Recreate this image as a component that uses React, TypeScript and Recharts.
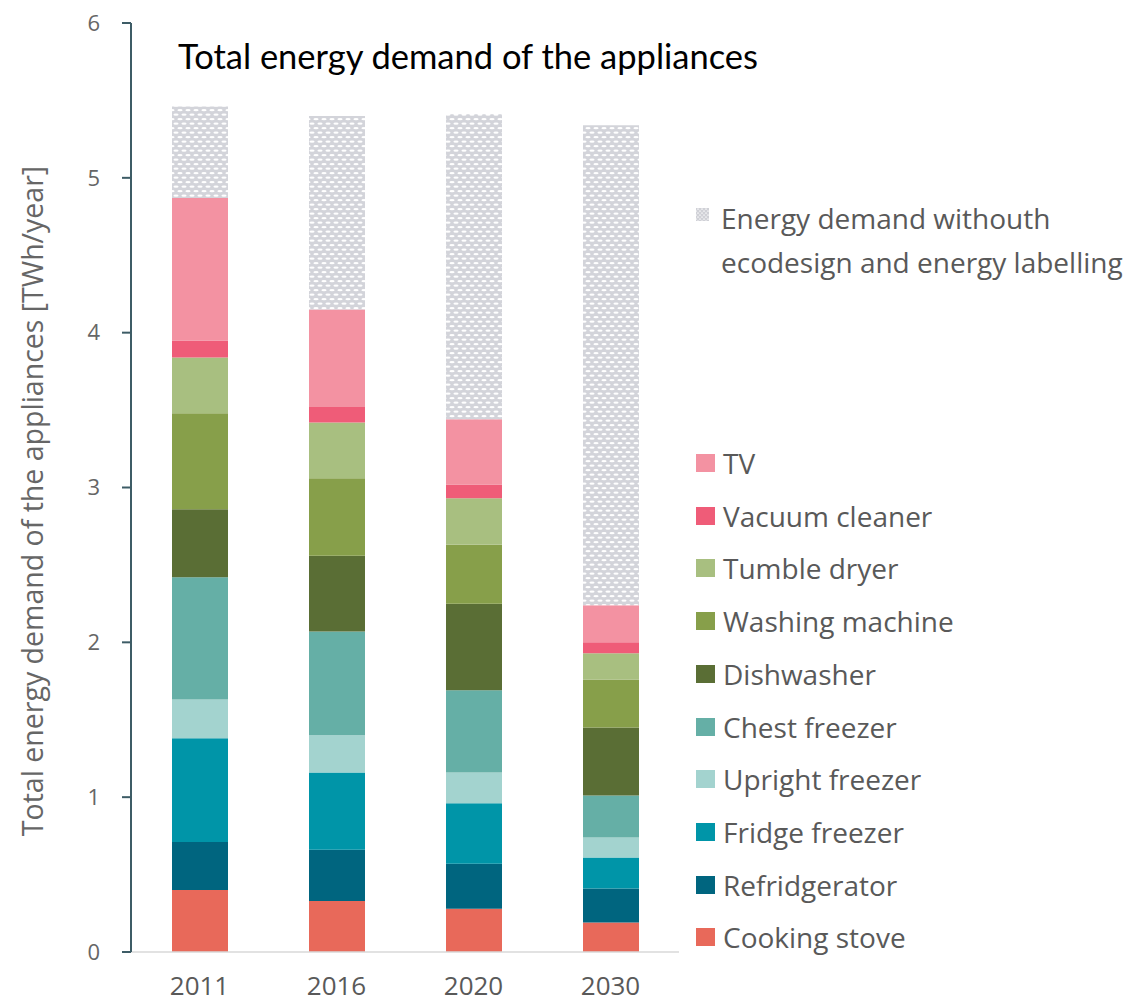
import React from "react";
import { BarChart, Bar, XAxis, YAxis, Label } from "recharts";

const years = ["2011", "2016", "2020", "2030"];

// segment values per appliance, TWh/year
const cookingStove = [0.4, 0.33, 0.28, 0.19];
const refridgerator = [0.31, 0.33, 0.29, 0.22];
const fridgeFreezer = [0.67, 0.5, 0.39, 0.2];
const uprightFreezer = [0.25, 0.24, 0.2, 0.13];
const chestFreezer = [0.79, 0.67, 0.53, 0.27];
const dishwasher = [0.44, 0.49, 0.56, 0.44];
const washingMachine = [0.62, 0.5, 0.38, 0.31];
const tumbleDryer = [0.36, 0.36, 0.3, 0.17];
const vacuumCleaner = [0.11, 0.1, 0.09, 0.07];
const tv = [0.92, 0.63, 0.42, 0.24];

// total demand without ecodesign and energy labelling
const totalWithout = [5.46, 5.4, 5.41, 5.34];

const yTicks = [0, 1, 2, 3, 4, 5, 6];

const series = [
  { key: "cooking", name: "Cooking stove", color: "#E8695A", values: cookingStove },
  { key: "fridge", name: "Refridgerator", color: "#00657F", values: refridgerator },
  { key: "fridgeFreezer", name: "Fridge freezer", color: "#0095A8", values: fridgeFreezer },
  { key: "upright", name: "Upright freezer", color: "#A3D3CF", values: uprightFreezer },
  { key: "chest", name: "Chest freezer", color: "#65AFA6", values: chestFreezer },
  { key: "dish", name: "Dishwasher", color: "#5A6E35", values: dishwasher },
  { key: "washing", name: "Washing machine", color: "#879F4A", values: washingMachine },
  { key: "tumble", name: "Tumble dryer", color: "#A8BF80", values: tumbleDryer },
  { key: "vacuum", name: "Vacuum cleaner", color: "#EF5C78", values: vacuumCleaner },
  { key: "tv", name: "TV", color: "#F392A2", values: tv },
];

const hatchName = "Energy demand withouth ecodesign and energy labelling";

const data = years.map((year, i) => {
  const row: Record<string, any> = { year };
  let sum = 0;
  series.forEach((s) => {
    row[s.key] = s.values[i];
    sum += s.values[i];
  });
  row.without = +(totalWithout[i] - sum).toFixed(2);
  return row;
});

const font = "'Open Sans', sans-serif";

function HatchDefs() {
  return (
    <defs>
      <pattern id="hatch" width="8" height="9" patternUnits="userSpaceOnUse">
        <rect width="8" height="9" fill="#d3d4da" />
        <ellipse cx="4" cy="2.2" rx="2.6" ry="1.1" fill="#ffffff" />
        <ellipse cx="0" cy="6.7" rx="2.6" ry="1.1" fill="#ffffff" />
        <ellipse cx="8" cy="6.7" rx="2.6" ry="1.1" fill="#ffffff" />
      </pattern>
    </defs>
  );
}

function YLabel() {
  return (
    <text
      x={32}
      y={501}
      transform="rotate(-90 32 501)"
      textAnchor="middle"
      dominantBaseline="central"
      fill="#666666"
      fontSize={28.5}
      fontFamily={font}
    >
      Total energy demand of the appliances [TWh/year]
    </text>
  );
}

function ChartLegend() {
  const items = [...series].reverse();
  return (
    <div style={{ position: "absolute", left: 696, top: 0, fontFamily: font, color: "#595959" }}>
      <div style={{ position: "absolute", top: 196, left: 0, width: 450 }}>
        <svg width={13} height={13} style={{ position: "absolute", left: 0, top: 12 }}>
          <rect width={13} height={13} fill="url(#hatchLegend)" />
          <defs>
            <pattern id="hatchLegend" width="4" height="4" patternUnits="userSpaceOnUse">
              <rect width="4" height="4" fill="#cfd0d6" />
              <ellipse cx="2" cy="1" rx="1.2" ry="0.6" fill="#fff" />
              <ellipse cx="0" cy="3" rx="1.2" ry="0.6" fill="#fff" />
              <ellipse cx="4" cy="3" rx="1.2" ry="0.6" fill="#fff" />
            </pattern>
          </defs>
        </svg>
        <div style={{ marginLeft: 25, fontSize: 28, lineHeight: "44px" }}>
          Energy demand withouth
          <br />
          ecodesign and energy labelling
        </div>
      </div>
      {items.map((s, i) => (
        <div
          key={s.key}
          style={{
            position: "absolute",
            left: 0,
            top: 437 + i * 52.7,
            height: 52,
            display: "flex",
            alignItems: "center",
            whiteSpace: "nowrap",
          }}
        >
          <span style={{ width: 19, height: 18, background: s.color, display: "inline-block" }} />
          <span style={{ marginLeft: 8, fontSize: 28 }}>{s.name}</span>
        </div>
      ))}
    </div>
  );
}

export default function App() {
  return (
    <div style={{ position: "absolute", left: 0, top: 0, width: 1142, height: 1003, background: "#fff" }}>
      <BarChart
        width={1142}
        height={1003}
        data={data}
        margin={{ top: 23, right: 463, bottom: 6, left: 71 }}
      >
        <HatchDefs />
        <XAxis
          dataKey="year"
          height={45}
          axisLine={{ stroke: "#d9d9d9", strokeWidth: 1.5 }}
          tickLine={false}
          tick={{ fill: "#595959", fontSize: 26, fontFamily: font, dy: 17 }}
        />
        <YAxis
          width={60}
          domain={[0, 6]}
          ticks={yTicks}
          interval={0}
          allowDecimals={false}
          axisLine={{ stroke: "#3d5c66", strokeWidth: 2 }}
          tickLine={{ stroke: "#3d5c66", strokeWidth: 2 }}
          tickSize={9}
          tickMargin={22}
          tick={{ fill: "#666666", fontSize: 22, fontFamily: font }}
        >
          <Label content={() => <YLabel />} />
        </YAxis>
        {series.map((s) => (
          <Bar
            key={s.key}
            dataKey={s.key}
            name={s.name}
            stackId="a"
            fill={s.color}
            barSize={56}
            isAnimationActive={false}
          />
        ))}
        <Bar
          dataKey="without"
          name={hatchName}
          stackId="a"
          fill="url(#hatch)"
          barSize={56}
          isAnimationActive={false}
        />
      </BarChart>
      <div
        style={{
          position: "absolute",
          left: 178,
          top: 39,
          fontFamily: "Lato, sans-serif",
          fontSize: 34.5,
          lineHeight: "34px",
          color: "#000",
          whiteSpace: "nowrap",
        }}
      >
        Total energy demand of the appliances
      </div>
      <ChartLegend />
    </div>
  );
}
